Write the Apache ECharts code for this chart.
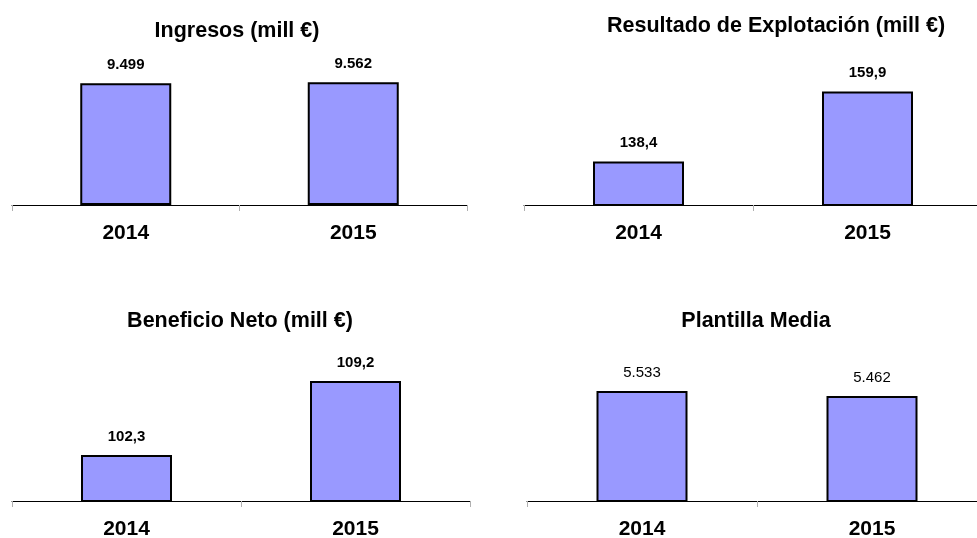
<!DOCTYPE html>
<html>
<head>
<meta charset="utf-8">
<script src="https://cdn.jsdelivr.net/npm/echarts@6/dist/echarts.min.js"></script>
<style>
html,body{margin:0;padding:0;background:#fff;}
#chart{width:977px;height:538px;}
</style>
</head>
<body>
<div id="chart"></div>
<script>
var categories = ['2014', '2015'];
var titles = ['Ingresos (mill €)', 'Resultado de Explotación (mill €)', 'Beneficio Neto (mill €)', 'Plantilla Media'];
var ingresos = [9499, 9562];
var resultadoExplotacion = [138.4, 159.9];
var beneficioNeto = [102.3, 109.2];
var plantillaMedia = [5533, 5462];
var yMins = [0, 125, 98, 4000];
var yMaxs = [10000, 165, 110, 6000];

function fmtThousands(v) {
  var s = String(Math.round(v));
  return s.replace(/\B(?=(\d{3})+(?!\d))/g, '.');
}
function fmtDecimal(v) {
  return v.toFixed(1).replace('.', ',');
}

var FONT = 'Liberation Sans, Arial, sans-serif';
var grids = [
  {left: 12, top: 76.7, width: 455, height: 128.3, outerBoundsMode: 'none', containLabel: false},
  {left: 524, top: 74.8, width: 458, height: 130.2, outerBoundsMode: 'none', containLabel: false},
  {left: 12, top: 372.3, width: 458, height: 128.7, outerBoundsMode: 'none', containLabel: false},
  {left: 527, top: 357.5, width: 460, height: 143.5, outerBoundsMode: 'none', containLabel: false}
];
var titlePos = [
  {x: 237, y: 20},
  {x: 776, y: 15},
  {x: 240, y: 310.5},
  {x: 756, y: 310.5}
];
var datasets = [ingresos, resultadoExplotacion, beneficioNeto, plantillaMedia];
var formatters = [fmtThousands, fmtDecimal, fmtDecimal, fmtThousands];
var labelBold = [true, true, true, false];

var option = {
  backgroundColor: '#ffffff',
  animation: false,
  title: titles.map(function (t, i) {
    return {
      text: t, left: titlePos[i].x, top: titlePos[i].y, textAlign: 'center',
      padding: 0,
      textStyle: {fontFamily: FONT, fontSize: 21.5, fontWeight: 'bold', color: '#000'}
    };
  }),
  grid: grids,
  xAxis: grids.map(function (g, i) {
    return {
      type: 'category', gridIndex: i, data: categories,
      axisLine: {lineStyle: {color: '#000', width: 1}},
      axisTick: {show: true, length: 6, lineStyle: {color: '#b0b0b0', width: 1}},
      axisLabel: {fontFamily: FONT, fontSize: 21, fontWeight: 'bold', color: '#000', margin: 18}
    };
  }),
  yAxis: grids.map(function (g, i) {
    return {type: 'value', gridIndex: i, min: yMins[i], max: yMaxs[i], show: false, splitLine: {show: false}};
  }),
  series: datasets.map(function (d, i) {
    return {
      type: 'bar', xAxisIndex: i, yAxisIndex: i, data: d, barWidth: 91,
      itemStyle: {color: '#9999FF', borderColor: '#000', borderWidth: 2},
      label: {
        show: true, position: 'top', distance: 11,
        fontFamily: FONT, fontSize: 15, fontWeight: labelBold[i] ? 'bold' : 'normal', color: '#000',
        formatter: (function (f) { return function (p) { return f(p.value); }; })(formatters[i])
      }
    };
  })
};
var chart = echarts.init(document.getElementById('chart'), null, {renderer: 'canvas'});
chart.setOption(option);
</script>
</body>
</html>
